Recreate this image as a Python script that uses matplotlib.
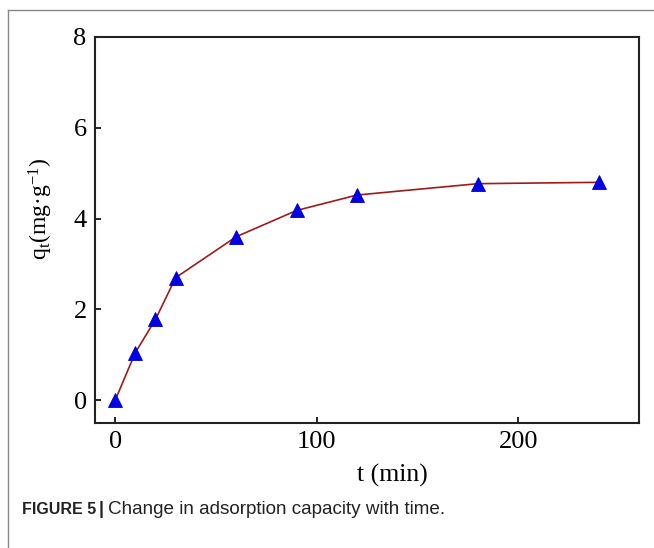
import numpy as np
import matplotlib
matplotlib.use('Agg')
from matplotlib import pyplot as plt
from matplotlib.lines import Line2D

# adsorption data
t_min = [0, 10, 20, 30, 60, 90, 120, 180, 240]
q_t = [0.0, 1.05, 1.78, 2.70, 3.60, 4.18, 4.52, 4.77, 4.80]
x_ticks = [0, 100, 200]
y_ticks = [0, 2, 4, 6, 8]

plt.rcParams['font.family'] = ['Liberation Serif', 'DejaVu Serif']
plt.rcParams['mathtext.fontset'] = 'custom'
plt.rcParams['mathtext.rm'] = 'Liberation Serif'
plt.rcParams['mathtext.default'] = 'regular'

fig = plt.figure(figsize=(6.54, 5.48), dpi=100)
ax = fig.add_axes([0.1453, 0.2281, 0.832, 0.7044])

ax.plot(t_min, q_t, color='#9e1b1b', lw=1.2, zorder=2)
ax.plot(t_min, q_t, ls='none', marker='^', ms=9.5, color='#0000e6',
        mec='#0000c8', mew=0.6, zorder=3)

ax.set_xlim(-10, 260)
ax.set_ylim(-0.5, 8)
ax.set_xticks(x_ticks)
ax.set_yticks(y_ticks)
ax.tick_params(direction='in', length=4.5, width=1.2, labelsize=19, pad=6)
for s in ax.spines.values():
    s.set_linewidth(1.5)
    s.set_color('#222222')

ax.set_xlabel('t (min)', fontsize=18.5)
ax.xaxis.set_label_coords(0.547, -0.107)
ax.set_ylabel('q$_t$(mg·g$^{-1}$)', fontsize=17)
ax.yaxis.set_label_coords(-0.073, 0.555)

# outer frame of the figure panel
fig.add_artist(Line2D([8/654, 1], [1 - 10/548, 1 - 10/548], color='#888888', lw=1.0))
fig.add_artist(Line2D([8/654, 8/654], [0, 1 - 10/548], color='#888888', lw=1.0))

cap_y = 1 - 510/548
cap_font = ['Liberation Sans', 'DejaVu Sans']
fig.text(22/654, cap_y, 'FIGURE 5', fontsize=11.5, fontweight='bold',
         family=cap_font, va='center', color='#222222')
fig.text(99/654, cap_y, '|', fontsize=13, fontweight='bold',
         family=cap_font, va='center', color='#222222')
fig.text(108/654, cap_y, 'Change in adsorption capacity with time.', fontsize=13.6,
         family=cap_font, va='center', color='#222222')

fig.savefig('out.png', dpi=100)
